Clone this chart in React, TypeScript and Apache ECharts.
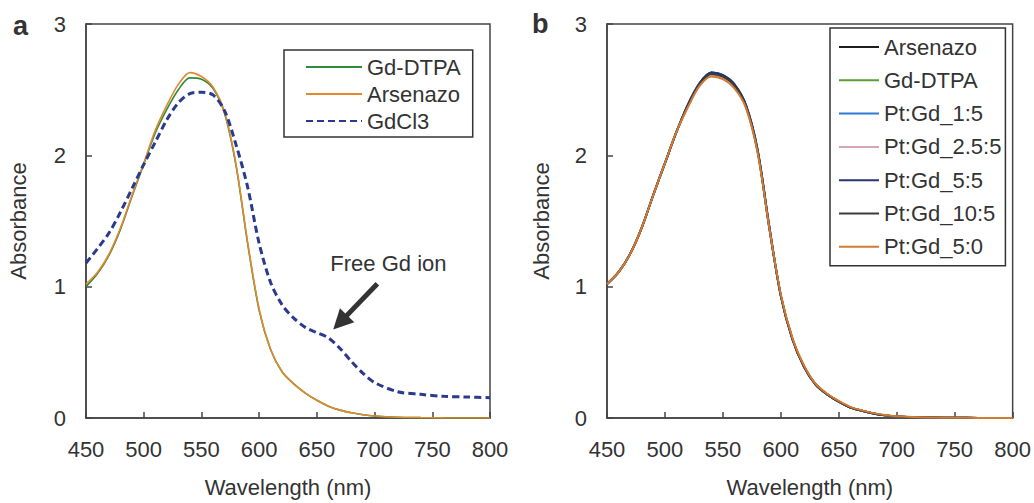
import React, { useEffect, useRef } from "react";
import * as echarts from "echarts";

const wavelengths = [450, 460, 470, 480, 490, 500, 510, 520, 530, 540, 550, 560, 570, 580, 590, 600, 610, 620, 630, 640, 650, 660, 670, 680, 690, 700, 720, 740, 760, 780, 800];

// Panel a
const aGdDTPA = [1.0, 1.1, 1.24, 1.44, 1.69, 1.93, 2.17, 2.35, 2.5, 2.59, 2.58, 2.51, 2.32, 1.92, 1.33, 0.82, 0.52, 0.35, 0.26, 0.19, 0.135, 0.09, 0.06, 0.04, 0.025, 0.015, 0.006, 0.003, 0.001, 0, 0];
const aArsenazo = [1.02, 1.11, 1.25, 1.45, 1.7, 1.94, 2.19, 2.38, 2.54, 2.63, 2.6, 2.52, 2.33, 1.93, 1.34, 0.83, 0.52, 0.35, 0.26, 0.19, 0.135, 0.09, 0.06, 0.04, 0.025, 0.015, 0.006, 0.003, 0.001, 0, 0];
const aGdCl3 = [1.18, 1.29, 1.41, 1.57, 1.75, 1.93, 2.1, 2.27, 2.4, 2.47, 2.48, 2.46, 2.34, 2.08, 1.76, 1.33, 1.03, 0.86, 0.76, 0.69, 0.65, 0.61, 0.53, 0.43, 0.34, 0.27, 0.2, 0.18, 0.165, 0.16, 0.155];

// Panel b
const bArsenazo = [1.02, 1.11, 1.25, 1.45, 1.7, 1.94, 2.18, 2.39, 2.55, 2.63, 2.61, 2.54, 2.38, 2.04, 1.46, 0.93, 0.6, 0.39, 0.255, 0.18, 0.125, 0.08, 0.055, 0.035, 0.02, 0.012, 0.005, 0.002, 0.001, 0, 0];
const bGdDTPA = [1.02, 1.11, 1.25, 1.45, 1.7, 1.94, 2.18, 2.38, 2.54, 2.62, 2.6, 2.53, 2.37, 2.03, 1.45, 0.93, 0.6, 0.39, 0.255, 0.18, 0.125, 0.08, 0.055, 0.035, 0.02, 0.012, 0.005, 0.002, 0.001, 0, 0];
const bPtGd1_5 = [1.02, 1.11, 1.25, 1.45, 1.7, 1.94, 2.18, 2.39, 2.55, 2.63, 2.61, 2.53, 2.37, 2.03, 1.45, 0.93, 0.6, 0.39, 0.255, 0.18, 0.125, 0.08, 0.055, 0.035, 0.02, 0.012, 0.005, 0.002, 0.001, 0, 0];
const bPtGd2_5_5 = [1.02, 1.11, 1.25, 1.45, 1.7, 1.94, 2.18, 2.38, 2.53, 2.61, 2.59, 2.52, 2.36, 2.02, 1.45, 0.93, 0.6, 0.39, 0.255, 0.18, 0.125, 0.08, 0.055, 0.035, 0.02, 0.012, 0.005, 0.002, 0.001, 0, 0];
const bPtGd5_5 = [1.02, 1.11, 1.25, 1.45, 1.7, 1.94, 2.18, 2.39, 2.55, 2.63, 2.61, 2.54, 2.38, 2.04, 1.46, 0.93, 0.6, 0.39, 0.255, 0.18, 0.125, 0.08, 0.055, 0.035, 0.02, 0.012, 0.005, 0.002, 0.001, 0, 0];
const bPtGd10_5 = [1.02, 1.11, 1.25, 1.45, 1.7, 1.94, 2.18, 2.38, 2.54, 2.62, 2.6, 2.53, 2.37, 2.03, 1.45, 0.93, 0.6, 0.39, 0.255, 0.18, 0.125, 0.08, 0.055, 0.035, 0.02, 0.012, 0.005, 0.002, 0.001, 0, 0];
const bPtGd5_0 = [1.02, 1.11, 1.25, 1.45, 1.7, 1.94, 2.18, 2.37, 2.53, 2.6, 2.58, 2.51, 2.36, 2.02, 1.45, 0.94, 0.61, 0.4, 0.26, 0.185, 0.13, 0.085, 0.058, 0.037, 0.022, 0.013, 0.005, 0.002, 0.001, 0, 0];

const xTicks = { min: 450, max: 800, interval: 50 };
const yTicks = { min: 0, max: 3, interval: 1 };

const annotationText = "Free Gd ion";
const annotationTextCoord = [712, 1.18];
const arrowFrom = [702.4, 1.022];
const arrowTo = [670.2, 0.728];

const FONT = "Liberation Sans, Arial, Helvetica, sans-serif";
const TXT = "#333";

const pair = (ys: number[]) => wavelengths.map((x, i) => [x, ys[i]]);

export default function App() {
  const ref = useRef<HTMLDivElement>(null);
  useEffect(() => {
    if (!ref.current) return;
    const chart = echarts.init(ref.current, undefined, { renderer: "svg" });

    const xAxisBase = (gridIndex: number) => ({
      type: "value",
      gridIndex,
      ...xTicks,
      name: "Wavelength (nm)",
      nameLocation: "middle",
      nameGap: 58,
      nameTextStyle: { fontSize: 22, color: TXT, fontFamily: FONT },
      axisLine: { show: true, lineStyle: { color: "#444", width: 1.5 } },
      axisTick: { show: true, inside: true, length: 6, lineStyle: { color: "#444", width: 1.5 } },
      axisLabel: { fontSize: 22, color: TXT, fontFamily: FONT, margin: 20 },
      splitLine: { show: false },
    });
    const yAxisBase = (gridIndex: number, nameGap: number) => ({
      type: "value",
      gridIndex,
      ...yTicks,
      name: "Absorbance",
      nameLocation: "middle",
      nameGap,
      nameTextStyle: { fontSize: 22, color: TXT, fontFamily: FONT },
      axisLine: { show: true, lineStyle: { color: "#444", width: 1.5 } },
      axisTick: { show: true, inside: true, length: 6, lineStyle: { color: "#444", width: 1.5 } },
      axisLabel: { fontSize: 22, color: TXT, fontFamily: FONT, margin: 20 },
      splitLine: { show: false },
    });

    const lineSeries = (name: string, ys: number[], color: string, idx: number, width = 1.6, type: any = "solid") => ({
      type: "line",
      name,
      xAxisIndex: idx,
      yAxisIndex: idx,
      data: pair(ys),
      showSymbol: false,
      symbol: "none",
      smooth: 0.3,
      lineStyle: { color, width, type },
      itemStyle: { color },
      silent: true,
    });

    const legendCommon = {
      orient: "vertical",
      backgroundColor: "#fff",
      borderColor: "#333",
      borderWidth: 1.5,
      borderRadius: 0,
      itemHeight: 14,
      selectedMode: false,
      itemStyle: { opacity: 0 },
      textStyle: { fontSize: 22, color: TXT, fontFamily: FONT, lineHeight: 22 },
      formatter: (n: string) => n.replace(/^b-/, ""),
    };

    const gdcl3: any = lineSeries("GdCl3", aGdCl3, "#2b3a8f", 0, 3, [7, 4]);
    gdcl3.markLine = {
      silent: true,
      symbol: ["none", "triangle"],
      symbolSize: 20,
      lineStyle: { color: "#333", width: 5, type: "solid" },
      itemStyle: { color: "#333" },
      label: { show: false },
      data: [[{ coord: arrowFrom }, { coord: arrowTo }]],
    };
    gdcl3.markPoint = {
      silent: true,
      symbol: "rect",
      symbolSize: 0,
      itemStyle: { color: "transparent" },
      label: { show: true, position: "inside", formatter: annotationText, fontSize: 22, color: TXT, fontFamily: FONT },
      data: [{ coord: annotationTextCoord }],
    };

    chart.setOption({
      animation: false,
      backgroundColor: "#fff",
      textStyle: { fontFamily: FONT },
      grid: [
        { left: 86, top: 24, width: 404, height: 401, show: true, borderColor: "#444", borderWidth: 1.5, backgroundColor: "transparent" },
        { left: 607, top: 24, width: 407, height: 401, show: true, borderColor: "#444", borderWidth: 1.5, backgroundColor: "transparent" },
      ],
      xAxis: [xAxisBase(0), xAxisBase(1)],
      yAxis: [yAxisBase(0, 57), yAxisBase(1, 55)],
      legend: [
        {
          ...legendCommon,
          left: 284,
          top: 50,
          padding: [6, 12, 5, 21],
          itemWidth: 56,
          itemGap: 5,
          data: ["Gd-DTPA", "Arsenazo", "GdCl3"],
        },
        {
          ...legendCommon,
          left: 830,
          top: 28,
          padding: [8, 4, 8, 8],
          itemWidth: 40,
          itemGap: 11.3,
          data: ["b-Arsenazo", "b-Gd-DTPA", "b-Pt:Gd_1:5", "b-Pt:Gd_2.5:5", "b-Pt:Gd_5:5", "b-Pt:Gd_10:5", "b-Pt:Gd_5:0"],
        },
      ],
      graphic: [
        { type: "text", left: 13, top: 12, style: { text: "a", fontSize: 27, fontWeight: "bold", fill: "#333", fontFamily: FONT } },
        { type: "text", left: 532, top: 10, style: { text: "b", fontSize: 27, fontWeight: "bold", fill: "#333", fontFamily: FONT } },
      ],
      series: [
        lineSeries("Gd-DTPA", aGdDTPA, "#2f8a3c", 0),
        lineSeries("Arsenazo", aArsenazo, "#e0892e", 0),
        gdcl3,
        lineSeries("b-Arsenazo", bArsenazo, "#1e1e1e", 1, 2),
        lineSeries("b-Gd-DTPA", bGdDTPA, "#5a9e34", 1, 2),
        lineSeries("b-Pt:Gd_1:5", bPtGd1_5, "#2f7bd6", 1, 2),
        lineSeries("b-Pt:Gd_2.5:5", bPtGd2_5_5, "#d6a7b0", 1, 2),
        lineSeries("b-Pt:Gd_5:5", bPtGd5_5, "#2a3470", 1, 2),
        lineSeries("b-Pt:Gd_10:5", bPtGd10_5, "#3a3a3a", 1, 2),
        lineSeries("b-Pt:Gd_5:0", bPtGd5_0, "#d27b33", 1, 2),
      ],
    });
    return () => chart.dispose();
  }, []);
  return <div ref={ref} style={{ position: "fixed", left: 0, top: 0, width: 1034, height: 503 }} />;
}
